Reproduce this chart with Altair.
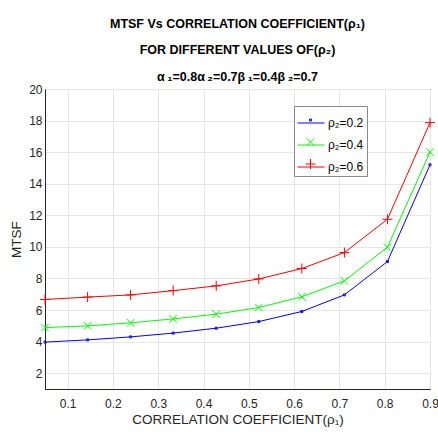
import altair as alt
import pandas as pd

x_vals = [0.05, 0.144, 0.239, 0.333, 0.428, 0.522, 0.617, 0.711, 0.806, 0.9]
blue_vals = [3.97, 4.11, 4.30, 4.54, 4.85, 5.27, 5.91, 6.96, 9.07, 15.2]
green_vals = [4.89, 5.00, 5.19, 5.44, 5.74, 6.16, 6.84, 7.85, 9.98, 16.0]
red_vals = [6.67, 6.82, 6.96, 7.23, 7.53, 7.97, 8.63, 9.64, 11.75, 17.87]
series_names = ["ρ₂=0.2", "ρ₂=0.4", "ρ₂=0.6"]
series_colors = ["#0000ff", "#00ff00", "#ff0000"]
x_ticks = [0.1, 0.2, 0.3, 0.4, 0.5, 0.6, 0.7, 0.8, 0.9]
y_ticks = [2, 4, 6, 8, 10, 12, 14, 16, 18, 20]
title_lines = ["MTSF Vs CORRELATION COEFFICIENT(ρ₁)",
               "FOR DIFFERENT VALUES OF(ρ₂)",
               "α\u2009₁=0.8α\u2009₂=0.7β\u2009₁=0.4β\u2009₂=0.7"]

rows = []
for name, vals in zip(series_names, [blue_vals, green_vals, red_vals]):
    for xv, yv in zip(x_vals, vals):
        rows.append({"x": xv, "y": yv, "series": name})
df = pd.DataFrame(rows)

FONT = "Liberation Sans"
marker_paths = ["M-0.2,-0.2L0.2,-0.2L0.2,0.2L-0.2,0.2Z",
                "M-0.75,-0.75L0.75,0.75M-0.75,0.75L0.75,-0.75",
                "M-1,0L1,0M0,-1L0,1"]

LX, LY = 249, 17

xenc = alt.X("x:Q", scale=alt.Scale(domain=[0.05, 0.9], nice=False, zero=False),
             axis=alt.Axis(values=x_ticks, format=".1f", title="CORRELATION COEFFICIENT(ρ₁)",
                           ticks=False, labelPadding=9, titlePadding=3, labelFlush=False))
yenc = alt.Y("y:Q", scale=alt.Scale(domain=[1, 20], nice=False, zero=False),
             axis=alt.Axis(values=y_ticks, title="MTSF", ticks=False, labelPadding=3,
                           titlePadding=5, labelFlush=False))

line_legend = alt.Legend(
    orient="none", legendX=LX, legendY=LY, title=None, symbolType="stroke",
    symbolSize=729, symbolStrokeWidth=1, labelFontSize=12, labelFont=FONT,
    labelColor="#000000", strokeColor="#8a8a8a", fillColor="white", padding=3,
    rowPadding=2, labelOffset=3)
point_legend = alt.Legend(
    orient="none", legendX=LX, legendY=LY, title=None,
    symbolSize=100, symbolStrokeWidth=1, labelFontSize=22, labelFont=FONT,
    labelOpacity=0, labelExpr="' '", padding=3, rowPadding=-1, labelOffset=3, symbolOffset=2.5)

lines = alt.Chart(df).mark_line(strokeWidth=1, clip=False).encode(
    x=xenc, y=yenc,
    color=alt.Color("series:N", scale=alt.Scale(domain=series_names, range=series_colors),
                    legend=line_legend),
)
points = alt.Chart(df).mark_point(filled=False, strokeWidth=1, opacity=1, size=100, clip=False).encode(
    x=xenc, y=yenc,
    color=alt.Color("series:N", scale=alt.Scale(domain=series_names, range=series_colors),
                    legend=point_legend),
    shape=alt.Shape("series:N", scale=alt.Scale(domain=series_names, range=marker_paths),
                    legend=point_legend),
)

chart = alt.layer(lines, points).resolve_scale(color="independent", shape="independent").resolve_legend(
    color="independent", shape="independent"
).properties(
    width=385, height=300,
    autosize=alt.AutoSizeParams(type="none"),
    padding={"left": 45, "top": 89, "right": 8, "bottom": 43},
    title=alt.TitleParams(text=title_lines, font=FONT, fontSize=12.5, fontWeight="bold",
                          color="#000000", anchor="middle", frame="group", lineHeight=26.5, offset=0),
).configure_axis(
    labelFont=FONT, labelFontSize=12, labelColor="#262626",
    titleFont=FONT, titleFontSize=13.5, titleFontWeight="normal", titleColor="#262626",
    gridColor="#e6e6e6", gridWidth=1, domainColor="#262626",
).configure_view(stroke="#262626", strokeWidth=1)

chart.save("out.html", embed_options={"renderer": "svg", "actions": False})
